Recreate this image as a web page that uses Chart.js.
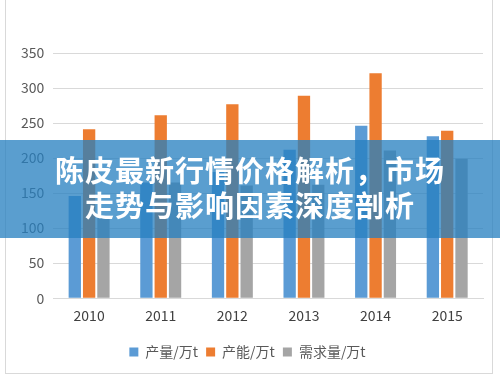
<!DOCTYPE html>
<html>
<head>
<meta charset="utf-8">
<script src="https://cdn.jsdelivr.net/npm/chart.js@4.4.1/dist/chart.umd.min.js"></script>
<style>
  body { margin: 0; background: #fff; width: 500px; height: 377px; overflow: hidden; position: relative; }
  #box { position: absolute; left: 5px; top: -1px; width: 486px; height: 373px; border: 1px solid #d9d9d9; }
  #banner {
    position: absolute; left: 0; top: 140px; width: 500px; height: 98px;
    background: rgba(38, 128, 192, 0.76);
    color: #fff; font-family: "Noto Sans CJK SC", sans-serif; font-weight: bold;
    font-size: 29px; line-height: 35px; text-align: center; letter-spacing: 1px;
    padding-top: 12px; box-sizing: border-box;
  }
</style>
</head>
<body>
<div id="box"><canvas id="c"></canvas></div>
<div id="banner">陈皮最新行情价格解析，市场<br>走势与影响因素深度剖析</div>
<script>
const years = ['2010', '2011', '2012', '2013', '2014', '2015'];
const output = [146, 165, 180, 212, 246, 231];     // 产量/万t
const capacity = [241, 261, 277, 289, 321, 239];   // 产能/万t
const demand = [115, 165, 161, 162, 211, 199];     // 需求量/万t
const yTicks = [0, 50, 100, 150, 200, 250, 300, 350];

const font = { family: '"Noto Sans CJK SC", "Open Sans", sans-serif' };

new Chart(document.getElementById('c'), {
  type: 'bar',
  data: {
    labels: years,
    datasets: [
      { label: '产量/万t', data: output, backgroundColor: '#5b9bd5' },
      { label: '产能/万t', data: capacity, backgroundColor: '#ed7d31' },
      { label: '需求量/万t', data: demand, backgroundColor: '#a5a5a5' },
    ],
  },
  options: {
    responsive: true,
    maintainAspectRatio: false,
    animation: false,
    datasets: { bar: { categoryPercentage: 0.6, barPercentage: 0.86 } },
    layout: { padding: { top: 53, right: 9, left: 6, bottom: 4 } },
    scales: {
      x: {
        grid: { display: false },
        border: { color: '#d9d9d9' },
        ticks: { color: '#404040', font: { ...font, size: 14 }, padding: 1 },
        afterFit: (axis) => { axis.height += 12; },
      },
      y: {
        min: 0,
        max: 350,
        afterBuildTicks: (axis) => { axis.ticks = yTicks.map((v) => ({ value: v })); },
        grid: { color: '#d9d9d9', drawTicks: false },
        border: { display: false },
        ticks: { color: '#595959', font: { ...font, size: 14 }, padding: 9 },
      },
    },
    plugins: {
      legend: {
        position: 'bottom',
        labels: { boxWidth: 9, boxHeight: 9, padding: 8, color: '#595959', font: { ...font, size: 14 } },
      },
      tooltip: { enabled: false },
    },
  },
});
</script>
</body>
</html>
